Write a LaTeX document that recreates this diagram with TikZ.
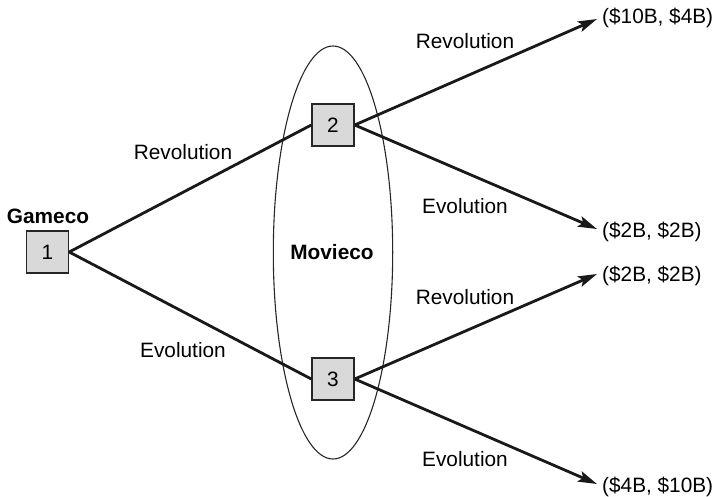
\documentclass[tikz,border=0pt]{standalone}
\usepackage{fontspec}
\setmainfont{Liberation Sans}
\usetikzlibrary{arrows.meta}
\definecolor{boxgray}{HTML}{D9D9D9}
\begin{document}
\begin{tikzpicture}[x=1pt,y=-1pt,
  every node/.style={font=\fontsize{20.8}{24}\selectfont},
  decision/.style={draw=black!85,line width=1.4pt,fill=boxgray,minimum width=42pt,minimum height=42pt,inner sep=0pt},
  branch/.style={line width=2.8pt,black!90},
  payoffarrow/.style={branch,-{Stealth[length=19pt,width=11pt,inset=4pt]}},
  lbl/.style={anchor=base,inner sep=0pt},
  payoff/.style={anchor=base west,inner sep=0pt}]
\useasboundingbox (0,0) rectangle (718,496);
% ellipse
\draw[line width=1.1pt,black!85] (333,252.5) ellipse [x radius=59.7, y radius=206.5];
% decision nodes
\node[decision] (n1) at (47.5,252) {1};
\node[decision] (n2) at (333,125) {2};
\node[decision] (n3) at (333,379) {3};
% player labels
\node[lbl,font=\fontsize{20.8}{24}\selectfont\bfseries] (gameco) at (48,223) {Gameco};
\node[font=\fontsize{20.8}{24}\selectfont\bfseries] (movieco) at (332,252) {Movieco};
% end points
\coordinate (e1) at (597,19);
\coordinate (e2) at (597,229);
\coordinate (e3) at (597,274);
\coordinate (e4) at (597,484);
% branches
\draw[branch] (n1.east) -- (n2.west);
\draw[branch] (n1.east) -- (n3.west);
\draw[payoffarrow] (n2.east) -- (e1);
\draw[payoffarrow] (n2.east) -- (e2);
\draw[payoffarrow] (n3.east) -- (e3);
\draw[payoffarrow] (n3.east) -- (e4);
% branch labels
\node[lbl] (l1) at (183,159.3) {Revolution};
\node[lbl] (l2) at (183,357.5) {Evolution};
\node[lbl] (l3) at (465,48.3) {Revolution};
\node[lbl] (l4) at (465,213.5) {Evolution};
\node[lbl] (l5) at (465,304.5) {Revolution};
\node[lbl] (l6) at (465,466.5) {Evolution};
% payoffs
\node[payoff] (p1) at (602,23.3) {(\$10B, \$4B)};
\node[payoff] (p2) at (602,237.3) {(\$2B, \$2B)};
\node[payoff] (p3) at (602,281) {(\$2B, \$2B)};
\node[payoff] (p4) at (602,492) {(\$4B, \$10B)};
\end{tikzpicture}
\end{document}
